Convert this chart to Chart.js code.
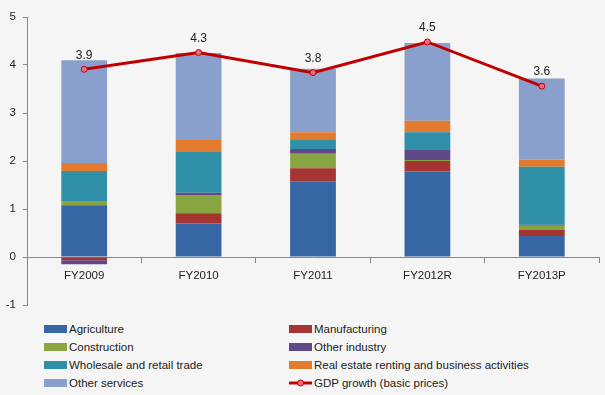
<!DOCTYPE html>
<html>
<head>
<meta charset="utf-8">
<script src="https://cdn.jsdelivr.net/npm/chart.js@4/dist/chart.umd.min.js"></script>
<style>
  html, body { margin: 0; padding: 0; background: #f5f5f5; }
  #wrap { position: relative; width: 605px; height: 395px; overflow: hidden; }
  #c { position: absolute; left: 0; top: 0; }
  #legend { position: absolute; left: 0; top: 320px; width: 605px; font-family: "Liberation Sans", Arial, sans-serif; font-size: 11.5px; color: #222; }
  .item { position: absolute; height: 18px; line-height: 18px; white-space: nowrap; }
  .sw { position: absolute; left: 0; top: 5px; width: 23px; height: 8px; }
  .txt { position: absolute; left: 25px; top: 0; }
</style>
</head>
<body>
<div id="wrap">
  <canvas id="c" width="605" height="320"></canvas>
  <div id="legend"></div>
</div>
<script>
const categories = ['FY2009', 'FY2010', 'FY2011', 'FY2012R', 'FY2013P'];
const agriculture    = [1.08, 0.70, 1.58, 1.78, 0.44];
const manufacturing  = [-0.07, 0.21, 0.27, 0.22, 0.12];
const construction   = [0.07, 0.38, 0.30, 0.02, 0.09];
const otherIndustry  = [-0.08, 0.05, 0.10, 0.21, 0.02];
const wholesale      = [0.64, 0.85, 0.19, 0.37, 1.21];
const realEstate     = [0.17, 0.25, 0.16, 0.24, 0.15];
const otherServices  = [2.14, 1.81, 1.32, 1.62, 1.69];
const gdpGrowth      = [3.91, 4.26, 3.84, 4.48, 3.56];
const yTicks = [-1, 0, 1, 2, 3, 4, 5];

const barSeries = [
  { label: 'Agriculture', data: agriculture, color: '#3766a4' },
  { label: 'Manufacturing', data: manufacturing, color: '#a53533' },
  { label: 'Construction', data: construction, color: '#88a542' },
  { label: 'Other industry', data: otherIndustry, color: '#614889' },
  { label: 'Wholesale and retail trade', data: wholesale, color: '#2f90a8' },
  { label: 'Real estate renting and business activities', data: realEstate, color: '#e27b2d' },
  { label: 'Other services', data: otherServices, color: '#8aa0cc' }
];

const datasets = barSeries.map(s => ({
  type: 'bar', label: s.label, data: s.data, backgroundColor: s.color,
  borderWidth: 0, stack: 'bars', order: 1,
  categoryPercentage: 0.4, barPercentage: 1.0
}));
datasets.push({
  type: 'line', label: 'GDP growth (basic prices)', data: gdpGrowth,
  borderColor: '#c00000', borderWidth: 3, backgroundColor: '#e8607a',
  pointRadius: 3, pointBorderWidth: 1, pointBorderColor: '#c00000', pointBackgroundColor: '#ef6b82',
  tension: 0, stack: 'gdp', order: 0
});

const labelPlugin = {
  id: 'gdpLabels',
  afterDatasetsDraw(chart) {
    const idx = chart.data.datasets.length - 1;
    const meta = chart.getDatasetMeta(idx);
    const ctx = chart.ctx;
    ctx.save();
    ctx.font = '12px "Liberation Sans", Arial, sans-serif';
    ctx.fillStyle = '#222';
    ctx.textAlign = 'center';
    ctx.textBaseline = 'bottom';
    meta.data.forEach((pt, i) => {
      ctx.fillText(gdpGrowth[i].toFixed(1), pt.x, pt.y - 8);
    });
    ctx.restore();
  }
};

const chart = new Chart(document.getElementById('c'), {
  data: { labels: categories, datasets },
  options: {
    responsive: false,
    animation: false,
    layout: { padding: { top: 17, right: 6, bottom: 15, left: 0 } },
    plugins: { legend: { display: false }, tooltip: { enabled: false } },
    scales: {
      x: {
        stacked: true,
        position: { y: 0 },
        grid: { display: true, drawOnChartArea: false, drawTicks: true, tickLength: 5, color: '#888', offset: true },
        border: { display: true, color: '#888', width: 1 },
        ticks: { color: '#222', font: { family: '"Liberation Sans", Arial, sans-serif', size: 11.5 }, padding: 7 }
      },
      y: {
        stacked: true,
        min: -1, max: 5,
        afterFit(scale) { scale.width = 27; },
        afterBuildTicks(scale) { scale.ticks = yTicks.map(v => ({ value: v })); },
        grid: { display: true, drawOnChartArea: false, drawTicks: true, tickLength: 4, color: '#888' },
        border: { display: true, color: '#888', width: 1 },
        ticks: { color: '#222', font: { family: '"Liberation Sans", Arial, sans-serif', size: 11.5 }, padding: 7 }
      }
    }
  },
  plugins: [labelPlugin]
});

// HTML legend built from the datasets
const legend = document.getElementById('legend');
chart.data.datasets.forEach((d, k) => {
  const col = k % 2, row = Math.floor(k / 2);
  const el = document.createElement('div');
  el.className = 'item';
  el.style.left = (col === 0 ? 44 : 289) + 'px';
  el.style.top = (row * 18) + 'px';
  let sw;
  if (d.type === 'line') {
    sw = '<svg style="position:absolute;left:0;top:4px" width="23" height="10"><line x1="0" y1="5" x2="23" y2="5" stroke="#c00000" stroke-width="3"/><circle cx="11.5" cy="5" r="3" fill="#ef6b82" stroke="#c00000" stroke-width="1"/></svg>';
  } else {
    sw = '<span class="sw" style="background:' + d.backgroundColor + '"></span>';
  }
  el.innerHTML = sw + '<span class="txt">' + d.label + '</span>';
  legend.appendChild(el);
});
</script>
</body>
</html>
